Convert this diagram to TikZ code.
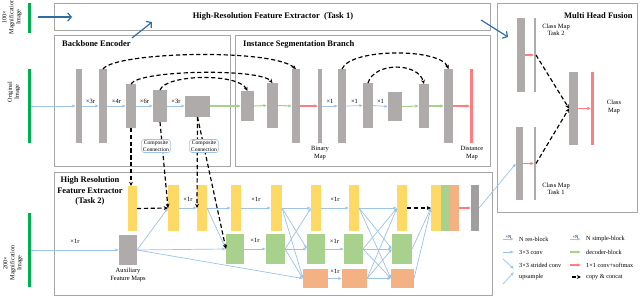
\documentclass[tikz,border=0pt]{standalone}
\usepackage{fontspec}
\setmainfont{Liberation Serif}
\usetikzlibrary{arrows.meta}
\definecolor{fmgray}{RGB}{175,171,171}
\definecolor{outgray}{RGB}{160,158,158}
\definecolor{fmyellow}{RGB}{255,217,102}
\definecolor{fmgreen}{RGB}{169,209,142}
\definecolor{fmorange}{RGB}{244,177,131}
\definecolor{lred}{RGB}{255,124,128}
\definecolor{lblue}{RGB}{157,195,230}
\definecolor{lgreen}{RGB}{169,209,142}
\definecolor{dblue}{RGB}{46,109,164}
\definecolor{barg}{RGB}{0,176,80}
\definecolor{boxgray}{RGB}{166,166,166}
\newcommand{\fmap}[6]{%
  \pgfmathsetmacro\fmw{(#4-#2)*0.85}%
  \pgfmathsetmacro\fmh{(#5-#3)*0.85}%
  \node[fm,fill=#6,minimum width=\fmw pt,minimum height=\fmh pt] (#1) at ({(#2+#4)/2},{(#3+#5)/2}) {};}
\begin{document}
\begin{tikzpicture}[x=0.85pt,y=-0.85pt,
  fm/.style={inner sep=0pt,outer sep=0pt,draw=none},
  panel/.style={draw=boxgray,line width=0.8pt},
  ttl/.style={font=\fontsize{7.2}{8.6}\selectfont\bfseries,inner sep=0pt,align=center},
  lbl/.style={font=\fontsize{5.5}{6.2}\selectfont,inner sep=0pt,align=center},
  sidelbl/.style={font=\fontsize{5.2}{6}\selectfont,inner sep=0pt,align=center,rotate=90},
  leg/.style={font=\fontsize{5.3}{6}\selectfont,inner sep=0pt,anchor=west},
  bl/.style={draw=lblue,line width=0.6pt,-{Latex[length=3pt,width=2.6pt]}},
  gr/.style={draw=lgreen,line width=0.9pt,-{Latex[length=3pt,width=2.8pt]}},
  grt/.style={draw=lgreen,line width=1.5pt,-{Latex[length=3pt,width=3pt]}},
  rd/.style={draw=lred,line width=0.9pt,-{Latex[length=3pt,width=2.8pt]}},
  cc/.style={draw=black,line width=1pt,dash pattern=on 3.6pt off 2.2pt,-{Stealth[length=3.6pt,width=3.2pt]}},
  db/.style={draw=dblue,line width=1pt,-{Straight Barb[length=3pt,width=7pt]}},
  comp/.style={draw=lblue,fill=white,rounded corners=2pt,line width=0.5pt,font=\fontsize{4.8}{5.4}\selectfont,inner sep=1.2pt,align=center}
]
\useasboundingbox (0,0) rectangle (640,297);

% panels
\draw[panel] (54,3) rectangle (490,30);
\draw[panel] (54,35) rectangle (230,166);
\draw[panel] (235,35) rectangle (490,166);
\draw[panel] (497,3) rectangle (637,212);
\draw[panel] (54,172) rectangle (492,295);

\node[ttl] (ttlA) at (273,16) {High-Resolution Feature Extractor\ \ (Task 1)};
\node[ttl,anchor=west] (ttlB) at (62,44) {Backbone Encoder};
\node[ttl,anchor=west] (ttlC) at (243,44) {Instance Segmentation Branch};
\node[ttl] (ttlE) at (90,191) {High Resolution\\Feature Extractor\\(Task 2)};
\node[ttl,anchor=west] (ttlD) at (ttlA.east -| 564,0) {Multi Head Fusion};

% side inputs
\fmap{GB1}{28}{3}{31}{33}{barg}
\fmap{GB2}{28}{69}{31}{143}{barg}
\fmap{GB3}{28}{213}{31}{287}{barg}
\node[sidelbl] (s1) at (12,17) {100×\\Magnification\\Image};
\node[sidelbl] (s2) at (14,92) {Original\\Image};
\node[sidelbl] (s3) at (13,263) {200×\\Magnification\\Image};

% backbone
\fmap{B1}{76}{69}{82}{143}{fmgray}
\fmap{B2}{99}{69}{107}{143}{fmgray}
\fmap{B3}{126}{84}{136}{128}{fmgray}
\fmap{B4}{153}{90}{167}{122}{fmgray}
\fmap{B5}{185}{96}{210}{117}{fmgray}
% segmentation branch
\fmap{S1}{241}{91}{254}{121}{fmgray}
\fmap{S2}{267}{83}{278}{128}{fmgray}
\fmap{S3}{292}{69}{300}{143}{fmgray}
\fmap{BM}{318}{69}{322}{143}{fmgray}
\fmap{S4}{338}{69}{346}{143}{fmgray}
\fmap{S5}{363}{83}{373}{128}{fmgray}
\fmap{S6}{388}{92}{402}{121}{fmgray}
\fmap{S7}{419}{84}{429}{128}{fmgray}
\fmap{S8}{444}{69}{453}{143}{fmgray}
\fmap{DM}{470}{69}{473}{143}{lred}
\node[lbl] (bml) at (320,153) {Binary\\Map};
\node[lbl] (dml) at (472,153) {Distance\\Map};

\draw[bl] (GB2.east) -- (B1.west);
\draw[bl] (B1.east) -- node[lbl,above=2pt] {×3r} (B2.west);
\draw[bl] (B2.east) -- node[lbl,above=2pt] {×4r} (B3.west);
\draw[bl] (B3.east) -- node[lbl,above=2pt] {×6r} (B4.west);
\draw[bl] (B4.east) -- node[lbl,above=2pt] {×3r} (B4.east -| B5.west);
\draw[gr] (B5.east |- S1.west) -- (S1.west);
\draw[gr] (S1.east) -- (S2.west);
\draw[gr] (S2.east) -- (S3.west);
\draw[rd] (S3.east) -- (BM.west);
\draw[bl] (BM.east) -- node[lbl,above=2pt] {×1} (S4.west);
\draw[bl] (S4.east) -- node[lbl,above=2pt] {×1} (S5.west);
\draw[bl] (S5.east) -- node[lbl,above=2pt] {×1} (S6.west);
\draw[gr] (S6.east) -- (S7.west);
\draw[grt] (S7.east) -- (S8.west);
\draw[rd] (S8.east) -- (DM.west);

% skip arcs
\draw[cc] (B2.north) .. controls (115,52) and (270,48) .. (S3.north);
\draw[cc] (B3.north) .. controls (138,70) and (260,68) .. (S2.north);
\draw[cc] (B4.north) .. controls (166,74) and (238,73) .. (S1.north);
\draw[cc] (S4.north) .. controls (350,48) and (440,48) .. (S8.north);
\draw[cc] (S5.north) .. controls (374,62) and (418,62) .. (S7.north);

% top dark blue arrows
\coordinate (a1s) at (38,17); \coordinate (a1e) at (72,17);
\coordinate (a2s) at (132,38); \coordinate (a2e) at (152,22);
\coordinate (a3s) at (481,20); \coordinate (a3e) at (508,37);
\draw[db] (a1s) -- (a1e);
\draw[db] (a2s) -- (a2e);
\draw[db] (a3s) -- (a3e);

% task 2 blocks
\fmap{AX}{119}{235}{137}{265}{fmgray}
\node[lbl] (axl) at (128,275) {Auxiliary\\Feature Maps};
\fmap{Y1}{128}{186}{137}{231}{fmyellow}
\fmap{Y2}{168}{185}{179}{231}{fmyellow}
\fmap{Y3}{197}{185}{207}{231}{fmyellow}
\fmap{Y4}{231}{185}{241}{231}{fmyellow}
\fmap{Y5}{271}{185}{282}{231}{fmyellow}
\fmap{Y6}{311}{185}{321}{231}{fmyellow}
\fmap{Y7}{349}{185}{359}{231}{fmyellow}
\fmap{Y8}{397}{185}{407}{231}{fmyellow}
\fmap{G1}{226}{234}{244}{264}{fmgreen}
\fmap{G2}{266}{234}{285}{264}{fmgreen}
\fmap{G3}{307}{234}{325}{264}{fmgreen}
\fmap{G4}{344}{234}{363}{264}{fmgreen}
\fmap{G5}{392}{234}{412}{264}{fmgreen}
\fmap{O1}{303}{269}{328}{288}{fmorange}
\fmap{O2}{342}{269}{367}{288}{fmorange}
\fmap{O3}{391}{269}{414}{288}{fmorange}
\fmap{CY}{431}{185}{441}{231}{fmyellow}
\fmap{CG}{441}{185}{450}{231}{fmgreen}
\fmap{CO}{450}{185}{459}{231}{fmorange}
\fmap{OUT}{471}{185}{479}{231}{outgray}

\draw[bl] (GB3.east) -- node[lbl,above=5pt] {×1r} (AX.west);
\draw[bl] (AX.east) -- (Y2.west);
\draw[bl] (AX.east) -- (G1.west);
\draw[bl] (AX.east) -- (O1.west);
\draw[bl] (Y2.east) -- node[lbl,above=5pt] {×1r} (Y3.west);
\draw[bl] (Y3.east) -- (Y4.west);
\draw[bl] (Y3.east) -- (G1.west);
\draw[bl] (Y4.east) -- node[lbl,above=5pt] {×1r} (Y5.west);
\draw[bl] (G1.east) -- node[lbl,above=5pt] {×1r} (G2.west);
\foreach \s in {Y5,G2}{\foreach \t in {Y6,G3,O1}{\draw[bl] (\s.east) -- (\t.west);}}
\draw[bl] (Y6.east) -- node[lbl,above=5pt] {×1r} (Y7.west);
\draw[bl] (G3.east) -- node[lbl,above=4pt] {×1r} (G4.west);
\draw[bl] (O1.east) -- node[lbl,above=4pt] {×1r} (O2.west);
\foreach \s in {Y7,G4,O2}{\foreach \t in {Y8,G5,O3}{\draw[bl] (\s.east) -- (\t.west);}}
\draw[bl] (G5.east) -- (CY.west);
\draw[bl] (O3.east) -- (CY.west);
\draw[cc] (Y8.east) -- (CY.west);
\draw[cc] (Y1.east) -- (Y2.west);
\draw[rd] (CO.east) -- (OUT.west);

% composite connections
\draw[cc] (B3.south) -- (B3.south |- Y1.north);
\draw[cc] (B4.south) -- (Y2.west);
\draw[cc] (B5.south) -- (Y3.west);
\draw[cc] (B5.south) -- (G1.west);
\node[comp] (cc1) at (156,146) {Composite\\Connection};
\node[comp] (cc2) at (204,146) {Composite\\Connection};

% multi head fusion
\fmap{M1}{517}{18}{525}{92}{fmgray}
\fmap{M1b}{534}{18}{536}{92}{fmgray}
\fmap{M2}{516}{127}{523}{200}{fmgray}
\fmap{M2b}{534}{127}{536}{200}{fmgray}
\fmap{M3}{569}{72}{578}{145}{fmgray}
\fmap{M4}{591}{72}{594}{145}{lred}
\node[lbl] (m1l) at (556,30) {Class Map\\Task 2};
\node[lbl] (m2l) at (556,189) {Class Map\\Task 1};
\node[lbl] (m4l) at (614,107) {Class\\Map};
\draw[rd] (M1.east) -- (M1b.west);
\draw[rd] (M2.east) -- (M2b.west);
\draw[rd] (M3.east) -- (M4.west);
\draw[cc] (M1b.east) -- (M3.west);
\draw[cc] (M2b.east) -- (M3.west);
\draw[bl] (OUT.east) -- (M2.west);

% legend
\draw[bl] (503,239) -- node[above=0.2pt,inner sep=0pt,font=\fontsize{3.8}{4}\selectfont] {×N} (514,239);
\node[leg] (lg1) at (519,239) {N res-block};
\draw[bl] (503,252) -- (514,252);
\node[leg] (lg2) at (519,252) {3×3 conv};
\draw[bl] (503,259) -- (514,269);
\node[leg] (lg3) at (519,265) {3×3 strided conv};
\draw[bl] (503,284) -- (514,272);
\node[leg] (lg4) at (519,277) {upsample};
\draw[bl] (570,239) -- node[above=0.2pt,inner sep=0pt,font=\fontsize{3.8}{4}\selectfont] {×N} (581,239);
\node[leg] (lg5) at (586,239) {N simple-block};
\draw[gr] (570,252) -- (581,252);
\node[leg] (lg6) at (586,252) {decoder-block};
\draw[rd] (570,265) -- (581,265);
\node[leg] (lg7) at (586,265) {1×1 conv+softmax};
\draw[cc] (572,277) -- (581,277);
\node[leg] (lg8) at (586,277) {copy \& concat};
\end{tikzpicture}
\end{document}
